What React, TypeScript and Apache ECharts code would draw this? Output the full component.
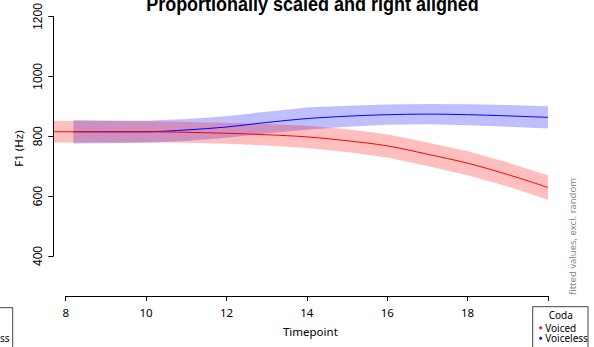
import React, { useEffect, useRef } from "react";
import * as echarts from "echarts";

// Fitted F1 (Hz) per timepoint, with confidence half-widths
const voicedX = [7.69, 8, 9, 10, 11, 12, 13, 14, 15, 16, 17, 18, 19, 20];
const voicedFit = [815, 815, 815, 815, 813, 810, 805, 798, 785, 768, 740, 710, 672, 629];
const voicedCI = [36, 36, 36, 35, 35, 35, 36, 37, 38, 39, 39, 40, 40, 41];

const voicelessX = [8.19, 9, 10, 11, 12, 13, 14, 15, 16, 17, 18, 19, 20];
const voicelessFit = [815, 815, 815, 821, 831, 846, 859, 867, 872, 874, 872, 868, 863];
const voicelessCI = [39, 38, 37, 37, 36, 36, 37, 35, 34, 34, 35, 36, 37];

const seriesNames = ["Voiced", "Voiceless"];
const xTickMin = 8;
const xTickMax = 20;
const xTickStep = 2;
const yTickMin = 400;
const yTickMax = 1200;
const yTickStep = 200;

const titleText = "Proportionally scaled and right aligned";
const xAxisTitle = "Timepoint";
const yAxisTitle = "F1 (Hz)";
const sideNote = "fitted values, excl. random";
const legendTitle = "Coda";

function band(xs: number[], fit: number[], ci: number[], color: string, z: number) {
  return {
    type: "custom",
    xAxisIndex: 0,
    yAxisIndex: 0,
    silent: true,
    z,
    clip: true,
    data: xs.map((x, i) => [x, fit[i] - ci[i], fit[i] + ci[i]]),
    encode: { x: 0, y: [1, 2] },
    renderItem: (params: any, api: any) => {
      if (params.dataIndex !== 0) return null;
      const upper = xs.map((x, i) => api.coord([x, fit[i] + ci[i]]));
      const lower = xs.map((x, i) => api.coord([x, fit[i] - ci[i]])).reverse();
      return {
        type: "polygon",
        shape: { points: upper.concat(lower) },
        style: { fill: color, stroke: "none" },
      };
    },
  };
}

function line(name: string, xs: number[], fit: number[], color: string, z: number) {
  return {
    type: "line",
    name,
    xAxisIndex: 0,
    yAxisIndex: 0,
    data: xs.map((x, i) => [x, fit[i]]),
    showSymbol: false,
    symbol: "circle",
    smooth: 0.3,
    color,
    lineStyle: { color, width: 1 },
    z,
  };
}

export default function App() {
  const ref = useRef<HTMLDivElement>(null);
  useEffect(() => {
    if (!ref.current) return;
    const chart = echarts.init(ref.current, undefined, { renderer: "svg" });
    const option: any = {
      animation: false,
      backgroundColor: "#ffffff",
      grid: [
        { left: 53.3, top: 16.5, width: 494.7, height: 239.5 },
        { left: 65.7, top: 200, width: 482.3, height: 96 },
      ],
      xAxis: [
        { type: "value", gridIndex: 0, min: 7.69, max: 20, show: false },
        {
          type: "value",
          gridIndex: 1,
          min: xTickMin,
          max: xTickMax,
          interval: xTickStep,
          axisLine: { show: true, lineStyle: { color: "#000", width: 1 } },
          axisTick: { show: true, length: 5, lineStyle: { color: "#000" } },
          axisLabel: { margin: 10, fontSize: 11.5, fontFamily: "Noto Sans", color: "#000" },
          splitLine: { show: false },
          name: xAxisTitle,
          nameLocation: "middle",
          nameGap: 29,
          nameTextStyle: { fontSize: 11.5, fontFamily: "Noto Sans", color: "#000", padding: [0, 0, 0, 7] },
        },
      ],
      yAxis: [
        {
          type: "value",
          gridIndex: 0,
          min: yTickMin,
          max: yTickMax,
          interval: yTickStep,
          axisLine: { show: true, lineStyle: { color: "#000", width: 1 } },
          axisTick: { show: true, length: 5, lineStyle: { color: "#000" } },
          axisLabel: {
            rotate: 90,
            margin: 9,
            fontSize: 12,
            fontFamily: "Liberation Sans",
            color: "#000",
            formatter: (v: number) => String(v),
          },
          splitLine: { show: false },
        },
        { type: "value", gridIndex: 1, show: false, min: 0, max: 1 },
      ],
      legend: {
        data: seriesNames,
        orient: "vertical",
        left: 539.2,
        top: 322.7,
        height: 40,
        padding: 0,
        icon: "circle",
        itemWidth: 3,
        itemHeight: 3,
        itemGap: 0.6,
        selectedMode: false,
        z: 110,
        textStyle: { fontSize: 10, lineHeight: 10, fontFamily: "Noto Sans", color: "#000", padding: [0, 0, 0, -2] },
      },
      series: [
        band(voicelessX, voicelessFit, voicelessCI, "rgba(0,0,255,0.25)", 1),
        band(voicedX, voicedFit, voicedCI, "rgba(255,0,0,0.25)", 2),
        line(seriesNames[1], voicelessX, voicelessFit, "#0000ff", 3),
        line(seriesNames[0], voicedX, voicedFit, "#ff0000", 4),
      ],
      graphic: [
        {
          type: "text",
          x: 312.5,
          y: 3.6,
          scaleY: 1.15,
          style: {
            text: titleText,
            font: "bold 18px 'Liberation Sans'",
            fill: "#000",
            textAlign: "center",
            textVerticalAlign: "middle",
          },
        },
        {
          type: "text",
          x: 18,
          y: 148.5,
          rotation: Math.PI / 2,
          style: {
            text: yAxisTitle,
            font: "11.5px 'Noto Sans'",
            fill: "#000",
            textAlign: "center",
            textVerticalAlign: "middle",
          },
        },
        {
          type: "text",
          x: 572.5,
          y: 236.5,
          rotation: Math.PI / 2,
          style: {
            text: sideNote,
            font: "9.5px 'Noto Sans'",
            fill: "#888",
            textAlign: "center",
            textVerticalAlign: "middle",
          },
        },
        {
          type: "rect",
          z: 100,
          shape: { x: 532.7, y: 306.7, width: 55.3, height: 60 },
          style: { fill: "#fff", stroke: "#444", lineWidth: 1 },
        },
        {
          type: "text",
          z: 101,
          x: 560.7,
          y: 315,
          style: {
            text: legendTitle,
            font: "10px 'Noto Sans'",
            fill: "#000",
            textAlign: "center",
            textVerticalAlign: "middle",
          },
        },
        {
          type: "rect",
          z: 100,
          shape: { x: -40, y: 307.7, width: 52.7, height: 60 },
          style: { fill: "#fff", stroke: "#444", lineWidth: 1 },
        },
        {
          type: "text",
          z: 101,
          x: 9.5,
          y: 338,
          style: {
            text: "Voiceless",
            font: "10px 'Noto Sans'",
            fill: "#000",
            textAlign: "right",
            textVerticalAlign: "middle",
          },
        },
      ],
    };
    chart.setOption(option);
    return () => chart.dispose();
  }, []);
  return (
    <div
      ref={ref}
      style={{ position: "fixed", left: 0, top: 0, width: 594, height: 347 }}
    />
  );
}
